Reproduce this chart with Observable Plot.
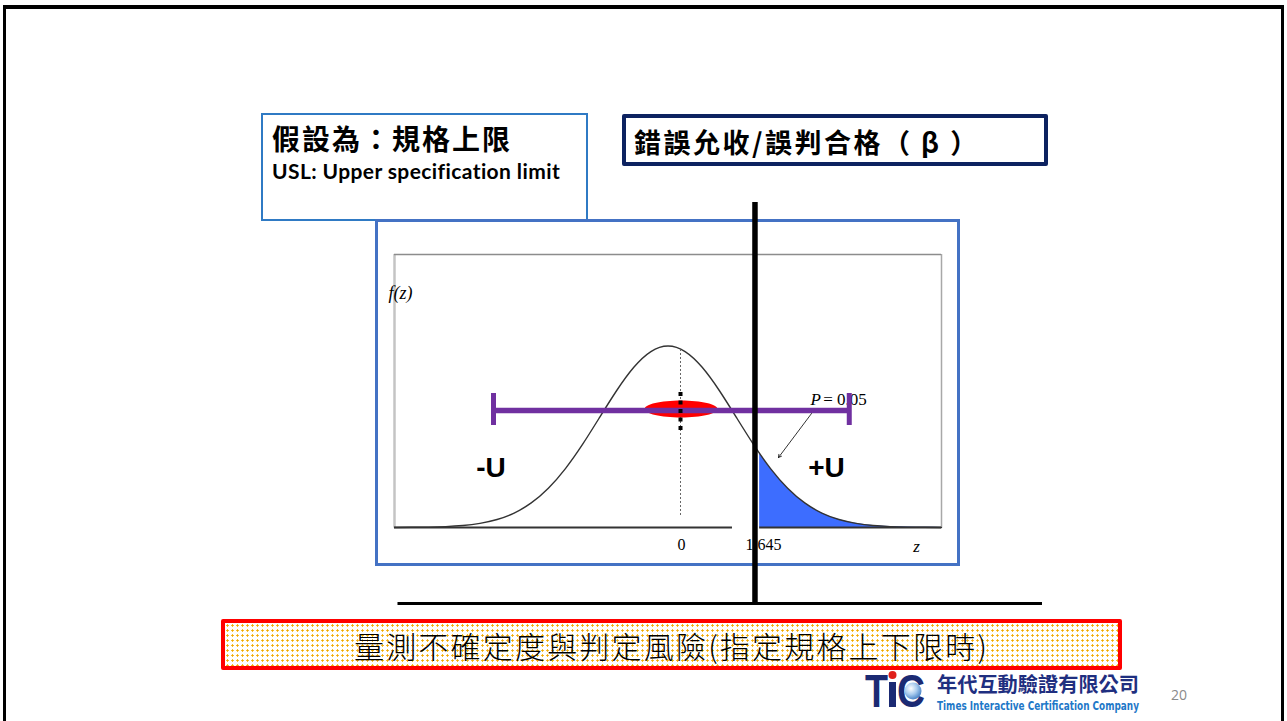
<!DOCTYPE html>
<html><head><meta charset="utf-8">
<script src="https://cdn.jsdelivr.net/npm/d3@7"></script>
<script src="https://cdn.jsdelivr.net/npm/@observablehq/plot@0.6"></script>
<style>
html,body{margin:0;padding:0;width:1287px;height:721px;overflow:hidden;background:#fff;}
#slide{position:relative;width:1287px;height:721px;overflow:hidden;background:#fff;}
.abs{position:absolute;}
#border{left:3px;top:5px;width:1275px;height:800px;border-left:3px solid #000;border-top:4px solid #000;border-right:3px solid #000;z-index:0;}
#box1{left:261px;top:113px;width:323px;height:104px;border:2px solid #2f7ac4;background:#fff;z-index:1;}
#chartFrame{left:375px;top:219px;width:579px;height:341px;border:3px solid #4472c4;z-index:2;}
#plot{left:0;top:0;z-index:3;}
#box2{left:622px;top:114px;width:418px;height:44px;border:4px solid #0d2260;background:#fff;z-index:4;border-radius:2px;}
#box3{left:221px;top:619px;width:893px;height:43px;border:4px solid #ff0000;z-index:4;border-radius:2px;
  background-color:#fff;
  background-image:radial-gradient(circle, #f2a900 0.9px, transparent 1.4px);
  background-size:5px 5px;}
.cjk{font-family:"Noto Sans CJK TC","Noto Sans CJK SC",sans-serif;white-space:nowrap;line-height:1;}
#t1{left:272px;top:124px;font-size:28px;font-weight:700;letter-spacing:2px;z-index:5;}
#t1b{left:272px;top:160px;font-family:Lato,"Liberation Sans",sans-serif;font-weight:700;font-size:21px;letter-spacing:0.4px;line-height:1;white-space:nowrap;z-index:5;}
#t2{left:634px;top:128px;font-size:27px;font-weight:700;letter-spacing:2.5px;z-index:5;}
#t3{left:221px;top:630px;width:901px;text-align:center;font-size:30px;font-weight:300;letter-spacing:2.2px;z-index:5;}
#logo{left:860px;top:664px;z-index:5;}
#pg{left:1171px;top:687px;font-family:"Open Sans",sans-serif;font-size:14px;line-height:1.2;color:#8a8a8a;z-index:5;}
</style></head><body>
<div id="slide">
  <div class="abs" id="border"></div>
  <div class="abs" id="box1"></div>
  <div class="abs" id="chartFrame"></div>
  <div class="abs" id="plot"></div>
  <div class="abs" id="box2"></div>
  <div class="abs" id="box3"></div>
  <div class="abs cjk" id="t1">假設為：規格上限</div>
  <div class="abs" id="t1b">USL: Upper specification limit</div>
  <div class="abs cjk" id="t2">錯誤允收/誤判合格（ β ）</div>
  <div class="abs cjk" id="t3">量測不確定度與判定風險(指定規格上下限時)</div>
  <svg class="abs" id="logo" width="306" height="56" viewBox="0 0 306 56" overflow="visible">
    <defs>
      <radialGradient id="globe" cx="0.38" cy="0.35" r="0.7">
        <stop offset="0" stop-color="#ffffff"/>
        <stop offset="0.5" stop-color="#a9cbee"/>
        <stop offset="1" stop-color="#3f7cc4"/>
      </radialGradient>
    </defs>
    <text x="5" y="43" font-family="Liberation Sans" font-weight="700" font-size="47" fill="#1b2a73" textLength="23" lengthAdjust="spacingAndGlyphs">T</text>
    <rect x="29" y="18" width="7" height="25" fill="#1b2a73"/>
    <circle cx="32.5" cy="11" r="4" fill="#e0201b"/>
    <text x="37" y="43" font-family="Liberation Sans" font-weight="700" font-size="47" fill="#1b2a73" textLength="28" lengthAdjust="spacingAndGlyphs">C</text>
    <circle cx="53" cy="27" r="8.5" fill="url(#globe)"/>
    <text x="77" y="28" font-family="Noto Sans CJK TC" font-weight="700" font-size="20.5" fill="#1f2f80" textLength="202" lengthAdjust="spacingAndGlyphs">年代互動驗證有限公司</text>
    <text x="77" y="46" font-family="DejaVu Sans Condensed, DejaVu Sans" font-weight="700" font-size="11.5" fill="#1e78c8" textLength="202" lengthAdjust="spacingAndGlyphs">Times Interactive Certification Company</text>
  </svg>
  <div class="abs" id="pg">20</div>
</div>
<script>
// standard normal curve
const zGrid = [-4,-3.75,-3.5,-3.25,-3,-2.75,-2.5,-2.25,-2,-1.75,-1.5,-1.25,-1,-0.75,-0.5,-0.25,0,0.25,0.5,0.75,1,1.25,1.5,1.75,2,2.25,2.5,2.75,3,3.25,3.5,3.75,4];
const density = [0.0001,0.0004,0.0009,0.0020,0.0044,0.0091,0.0175,0.0317,0.0540,0.0863,0.1295,0.1826,0.2420,0.3011,0.3521,0.3867,0.3989,0.3867,0.3521,0.3011,0.2420,0.1826,0.1295,0.0863,0.0540,0.0317,0.0175,0.0091,0.0044,0.0020,0.0009,0.0004,0.0001];
// shaded upper tail
const tailZ = [1.34,1.5,1.75,2,2.25,2.5,2.75,3,3.25,3.5,3.75,4];
const tailDensity = [0.1626,0.1295,0.0863,0.0540,0.0317,0.0175,0.0091,0.0044,0.0020,0.0009,0.0004,0.0001];
// axis tick labels (as placed in the picture)
const tickLabels = ["0", "1.645"];
const tickZ = [0.197, 1.397];
// uncertainty interval (-U .. +U) and measured value
const uLabels = ["-U", "+U"];
const uLabelZ = [-2.589, 2.318];
const uLabelF = 0.1297;
const uBandZ = [-2.552, 2.651];
const uBandF = 0.257;
const uCapF = [0.2242, 0.2945];
const measuredZ = 0.19;
const measuredF = 0.2604;
const meanLineZ = 0.183;
const meanLineF = [0.0264, 0.389];
// limit line (USL) and baseline of the slide diagram
const limitZ = 1.272;
const limitF = [-0.1692, 0.7143];
const floorF = -0.167;
const floorZ = [-3.949, 5.477];
// axis baseline segments
const baseFrom = [-4, 1.34];
const baseTo = [0.943, 4];
// P annotation
const pText = ["P", "= 0.05"];
const pZ = [2.084, 2.27];
const pF = 0.2802;
const arrowFrom = [2.099, 0.2505];
const arrowTo = [1.616, 0.1538];

const curveData = zGrid.map((z, i) => ({z, f: density[i]}));
const tailData = tailZ.map((z, i) => ({z, f: tailDensity[i]}));
const baseSegs = baseFrom.map((a, i) => ({x1: a, x2: baseTo[i], y: 0}));
const ticks = tickLabels.map((t, i) => ({t, z: tickZ[i], f: -0.0374}));

const ellipse = {
  draw(ctx, size) {
    const rx = Math.sqrt(size / Math.PI), ry = rx * 0.233, k = 0.5523;
    ctx.moveTo(rx, 0);
    ctx.bezierCurveTo(rx, ry * k, rx * k, ry, 0, ry);
    ctx.bezierCurveTo(-rx * k, ry, -rx, ry * k, -rx, 0);
    ctx.bezierCurveTo(-rx, -ry * k, -rx * k, -ry, 0, -ry);
    ctx.bezierCurveTo(rx * k, -ry, rx, -ry * k, rx, 0);
    ctx.closePath();
  }
};

const serif = "Liberation Serif, Times New Roman, serif";
const chart = Plot.plot({
  width: 1287, height: 721,
  marginLeft: 394, marginRight: 346, marginTop: 254, marginBottom: 194,
  x: {domain: [-4, 4], axis: null},
  y: {domain: [0, 0.6], axis: null},
  style: {background: "transparent", overflow: "visible", color: "#000", maxWidth: "none"},
  marks: [
    Plot.ruleX([-4], {stroke: "#c4c4c4", strokeWidth: 2.5}),
    Plot.ruleX([4], {stroke: "#a8a8a8", strokeWidth: 1.5}),
    Plot.ruleY([0.6], {stroke: "#8c8c8c", strokeWidth: 1.5}),
    Plot.areaY(tailData, {x: "z", y: "f", fill: "#3d6dff", curve: "natural"}),
    Plot.ruleY(baseSegs, {y: "y", x1: "x1", x2: "x2", stroke: "#333", strokeWidth: 2}),
    Plot.ruleX([{z: meanLineZ, a: meanLineF[0], b: meanLineF[1]}], {x: "z", y1: "a", y2: "b", stroke: "#666", strokeWidth: 1, strokeDasharray: "2,2"}),
    Plot.line(curveData, {x: "z", y: "f", stroke: "#333", strokeWidth: 1.4, curve: "natural"}),
    Plot.text([{z: pZ[0], f: pF}], {x: "z", y: "f", text: () => pText[0], textAnchor: "start", fontFamily: serif, fontStyle: "italic", fontSize: 17}),
    Plot.text([{z: pZ[1], f: pF}], {x: "z", y: "f", text: () => pText[1], textAnchor: "start", fontFamily: serif, fontSize: 17}),
    Plot.dot([{z: measuredZ, f: measuredF}], {x: "z", y: "f", r: 36.5, symbol: ellipse, fill: "#ff0000", stroke: "none"}),
    Plot.ruleY([{a: uBandZ[0], b: uBandZ[1], f: uBandF}], {y: "f", x1: "a", x2: "b", stroke: "#7030a0", strokeWidth: 5.5}),
    Plot.ruleX(uBandZ.map(z => ({z, a: uCapF[0], b: uCapF[1]})), {x: "z", y1: "a", y2: "b", stroke: "#7030a0", strokeWidth: 5}),
    Plot.ruleX([{z: meanLineZ, a: 0.2132, b: 0.2967}], {x: "z", y1: "a", y2: "b", stroke: "#000", strokeWidth: 4, strokeDasharray: "4,4.5"}),
    Plot.arrow([{x1: arrowFrom[0], y1: arrowFrom[1], x2: arrowTo[0], y2: arrowTo[1]}], {x1: "x1", y1: "y1", x2: "x2", y2: "y2", stroke: "#000", strokeWidth: 0.8, headLength: 6}),
    Plot.text(uLabels.map((t, i) => ({t, z: uLabelZ[i], f: uLabelF})), {x: "z", y: "f", text: "t", fontFamily: "Liberation Sans, Arial, sans-serif", fontWeight: "bold", fontSize: 28}),
    Plot.text([{t: "f(z)", z: -3.913, f: 0.5143}], {x: "z", y: "f", text: "t", fontFamily: serif, fontStyle: "italic", fontSize: 18}),
    Plot.text(ticks, {x: "z", y: "f", text: "t", fontFamily: serif, fontSize: 16}),
    Plot.text([{t: "z", z: 3.634, f: -0.0418}], {x: "z", y: "f", text: "t", fontFamily: serif, fontStyle: "italic", fontSize: 17}),
    Plot.ruleX([{z: limitZ, a: limitF[0], b: limitF[1]}], {x: "z", y1: "a", y2: "b", stroke: "#000", strokeWidth: 5.5}),
    Plot.ruleY([{a: floorZ[0], b: floorZ[1], f: floorF}], {y: "f", x1: "a", x2: "b", stroke: "#000", strokeWidth: 3})
  ]
});
document.getElementById("plot").appendChild(chart);
</script>
</body></html>
